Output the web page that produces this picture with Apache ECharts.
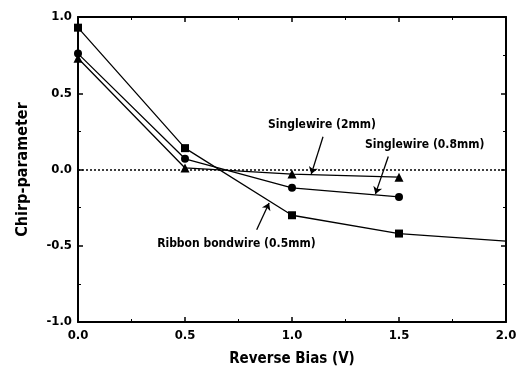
<!DOCTYPE html>
<html>
<head>
<meta charset="utf-8">
<script src="https://cdn.jsdelivr.net/npm/echarts@6/dist/echarts.min.js"></script>
<style>
  html, body { margin: 0; padding: 0; background: #fff; }
  #chart { width: 522px; height: 374px; }
</style>
</head>
<body>
<div id="chart"></div>
<script>
// data
var biasRibbon = [0, 0.5, 1.0, 1.5, 2.0];
var chirpRibbon = [0.93, 0.14, -0.30, -0.42, -0.47];
var biasSingle08 = [0, 0.5, 1.0, 1.5];
var chirpSingle08 = [0.76, 0.07, -0.12, -0.18];
var biasSingle2 = [0, 0.5, 1.0, 1.5];
var chirpSingle2 = [0.73, 0.01, -0.03, -0.05];

// annotation anchors (data coordinates)
var labels = [
  { text: 'Singlewire (2mm)', at: [1.14, 0.29], from: [1.145, 0.215], to: [1.09, -0.03] },
  { text: 'Singlewire (0.8mm)', at: [1.62, 0.16], from: [1.45, 0.085], to: [1.39, -0.16] },
  { text: 'Ribbon bondwire (0.5mm)', at: [0.74, -0.49], from: [0.835, -0.395], to: [0.893, -0.22] }
];

var FONT = '"DejaVu Sans Condensed", "Liberation Sans Narrow", "Liberation Sans", Arial, sans-serif';

function pairs(xs, ys) {
  return xs.map(function (x, i) { return [x, ys[i]]; });
}

var chart = echarts.init(document.getElementById('chart'));

var axisCommon = {
  axisLine: { show: true, onZero: false, lineStyle: { color: '#000', width: 2 } },
  axisTick: { show: true, inside: true, length: 5, lineStyle: { color: '#000', width: 1.5 } },
  minorTick: { show: true, splitNumber: 2, length: 3, lineStyle: { color: '#000', width: 1 } },
  splitLine: { show: false }
};

function lineSeries(name, data, symbol, size, lastHidden) {
  return {
    name: name,
    type: 'line',
    data: data.map(function (d, i) {
      if (lastHidden && i === data.length - 1) {
        return { value: d, symbol: 'none' };
      }
      return d;
    }),
    symbol: symbol,
    symbolSize: size,
    showSymbol: true,
    smooth: false,
    lineStyle: { color: '#000', width: 1.3 },
    itemStyle: { color: '#000' },
    silent: true,
    z: 3
  };
}

var option = {
  animation: false,
  grid: { left: 78, right: 16, top: 17, bottom: 52 },
  xAxis: [
    Object.assign({
      type: 'value', min: 0, max: 2, interval: 0.5,
      name: 'Reverse Bias (V)', nameLocation: 'middle', nameGap: 30,
      nameTextStyle: { fontFamily: FONT, fontWeight: 'bold', fontSize: 15, color: '#000' },
      axisLabel: {
        fontFamily: FONT, fontWeight: 'bold', fontSize: 13, color: '#000', margin: 7,
        formatter: function (v) { return v.toFixed(1); }
      }
    }, axisCommon),
    Object.assign({
      type: 'value', min: 0, max: 2, interval: 0.5, position: 'top',
      axisLabel: { show: false }
    }, axisCommon)
  ],
  yAxis: [
    Object.assign({
      type: 'value', min: -1, max: 1, interval: 0.5,
      name: 'Chirp-parameter', nameLocation: 'middle', nameGap: 47,
      nameTextStyle: { fontFamily: FONT, fontWeight: 'bold', fontSize: 16, color: '#000' },
      axisLabel: {
        fontFamily: FONT, fontWeight: 'bold', fontSize: 13, color: '#000', margin: 6,
        formatter: function (v) { return v.toFixed(1); }
      }
    }, axisCommon),
    Object.assign({
      type: 'value', min: -1, max: 1, interval: 0.5, position: 'right',
      axisLabel: { show: false }
    }, axisCommon)
  ],
  series: [
    lineSeries('Ribbon bondwire (0.5mm)', pairs(biasRibbon, chirpRibbon), 'rect', 8, true),
    lineSeries('Singlewire (0.8mm)', pairs(biasSingle08, chirpSingle08), 'circle', 8, false),
    lineSeries('Singlewire (2mm)', pairs(biasSingle2, chirpSingle2), 'triangle', 9, false),
    {
      // zero reference (dotted)
      type: 'line',
      data: [],
      silent: true,
      markLine: {
        silent: true,
        symbol: 'none',
        label: { show: false },
        lineStyle: { color: '#000', type: [2, 2], width: 1.5 },
        data: [{ yAxis: 0 }]
      },
      z: 1
    },
    {
      // annotations with arrows
      type: 'line',
      data: [],
      silent: true,
      markLine: {
        silent: true,
        symbol: ['none', 'arrow'],
        symbolSize: 7,
        label: { show: false },
        lineStyle: { color: '#000', type: 'solid', width: 1.3 },
        data: labels.map(function (l) {
          return [{ coord: l.from }, { coord: l.to }];
        })
      },
      markPoint: {
        silent: true,
        symbol: 'circle',
        symbolSize: 1,
        itemStyle: { color: 'rgba(0,0,0,0)' },
        label: {
          show: true, position: 'inside',
          fontFamily: FONT, fontWeight: 'bold', fontSize: 12, color: '#000',
          formatter: function (p) { return p.name; }
        },
        data: labels.map(function (l) {
          return { name: l.text, coord: l.at };
        })
      },
      z: 4
    }
  ]
};

chart.setOption(option);
</script>
</body>
</html>
